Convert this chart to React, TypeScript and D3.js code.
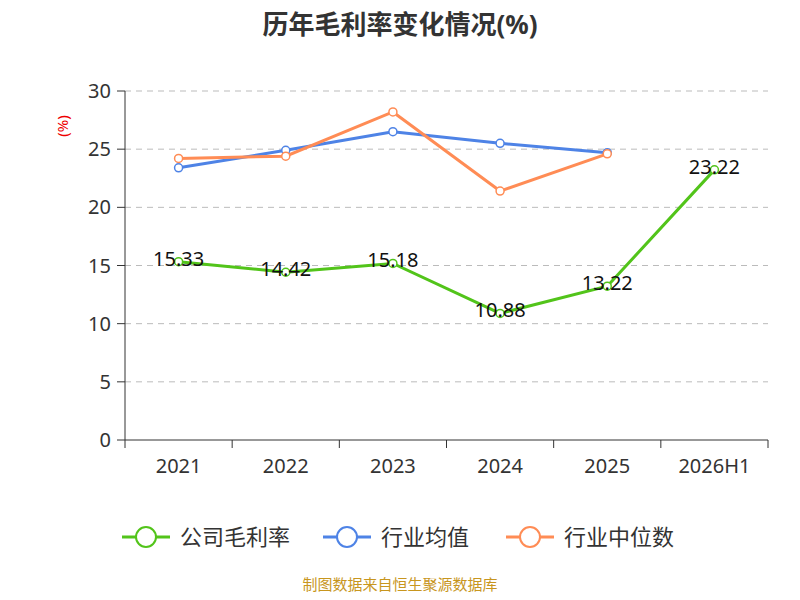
import React from "react";
import * as d3 from "d3";

const categories = ["2021", "2022", "2023", "2024", "2025", "2026H1"];
const company = [15.33, 14.42, 15.18, 10.88, 13.22, 23.22];
const industryAvg = [23.4, 24.9, 26.5, 25.5, 24.7];
const industryMedian = [24.2, 24.4, 28.2, 21.4, 24.6];
const yTicks = [0, 5, 10, 15, 20, 25, 30];

const GREEN = "#52c41a", BLUE = "#4e83e6", ORANGE = "#ff8c55";
const FONT = "'Noto Sans', 'Noto Sans CJK SC', sans-serif";

export default function App() {
  const W = 800, H = 600, L = 125, R = 768, T = 91, B = 440;
  const x = d3.scaleBand<string>().domain(categories).range([L, R]);
  const cx = (i: number) => (x(categories[i]) as number) + x.bandwidth() / 2;
  const y = d3.scaleLinear().domain([0, 30]).range([B, T]);
  const line = d3.line<number>().x((_, i) => cx(i)).y((d) => y(d));
  const series = [
    { data: industryAvg, color: BLUE },
    { data: industryMedian, color: ORANGE },
    { data: company, color: GREEN },
  ];
  const legend = [
    { name: "公司毛利率", color: GREEN, x: 122 },
    { name: "行业均值", color: BLUE, x: 323 },
    { name: "行业中位数", color: ORANGE, x: 506 },
  ];
  return (
    <svg width={W} height={H} style={{ display: "block", margin: -8 }} fontFamily={FONT}>
      <rect width={W} height={H} fill="#fff" />
      <text x={400} y={34} textAnchor="middle" fontSize={26} fontWeight="bold" fill="#333">历年毛利率变化情况(%)</text>
      <text transform={`translate(68,126) rotate(-90)`} textAnchor="middle" fontSize={15} fill="#e00">(%)</text>
      {yTicks.map((t) => (
        <g key={t}>
          {t > 0 && <line x1={L} x2={R} y1={y(t)} y2={y(t)} stroke="#bbb" strokeDasharray="6,5" />}
          <line x1={L - 8} x2={L} y1={y(t)} y2={y(t)} stroke="#333" />
          <text x={L - 14} y={y(t)} dy="0.35em" textAnchor="end" fontSize={20} fill="#333">{t}</text>
        </g>
      ))}
      <line x1={L} x2={L} y1={T} y2={B} stroke="#333" />
      <line x1={L} x2={R} y1={B} y2={B} stroke="#333" />
      {[...categories.map((c) => x(c) as number), R].map((p, i) => (
        <line key={i} x1={p} x2={p} y1={B} y2={B + 8} stroke="#333" />
      ))}
      {categories.map((c, i) => (
        <text key={c} x={cx(i)} y={B + 33} textAnchor="middle" fontSize={20} fill="#333">{c}</text>
      ))}
      {series.map((s, k) => (
        <g key={k}>
          <path d={line(s.data) as string} fill="none" stroke={s.color} strokeWidth={3} />
          {s.data.map((d, i) => (
            <circle key={i} cx={cx(i)} cy={y(d)} r={4} fill="#fff" stroke={s.color} strokeWidth={1.5} />
          ))}
        </g>
      ))}
      {company.map((d, i) => (
        <text key={i} x={cx(i)} y={y(d) - 3} dy="0.35em" textAnchor="middle" fontSize={20} fill="#111">{d.toFixed(2)}</text>
      ))}
      {legend.map((l) => (
        <g key={l.name}>
          <line x1={l.x} x2={l.x + 48} y1={537} y2={537} stroke={l.color} strokeWidth={3} />
          <circle cx={l.x + 24} cy={537} r={10} fill="#fff" stroke={l.color} strokeWidth={2} />
          <text x={l.x + 58} y={537} dy="0.35em" fontSize={22} fill="#333">{l.name}</text>
        </g>
      ))}
      <text x={400} y={590} textAnchor="middle" fontSize={15} fill="#c8961e">制图数据来自恒生聚源数据库</text>
    </svg>
  );
}
